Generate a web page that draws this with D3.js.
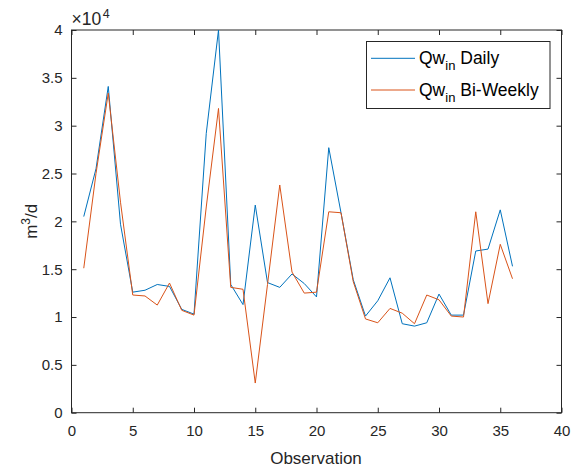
<!DOCTYPE html>
<html>
<head>
<meta charset="utf-8">
<script src="https://cdn.jsdelivr.net/npm/d3@7"></script>
<style>
  html, body { margin: 0; padding: 0; background: #fff; }
  svg { display: block; font-family: "Liberation Sans", Arial, Helvetica, sans-serif; }
</style>
</head>
<body>
<svg id="chart" width="573" height="474"></svg>
<script>
// Observation index 1..36
const observations = d3.range(1, 37);

// Inflow values, units of 1e4 m^3/d
const dailyValues = [
  2.05, 2.55, 3.41, 1.97, 1.26, 1.28, 1.34, 1.32, 1.08, 1.03,
  2.92, 4.00, 1.34, 1.13, 2.17, 1.36, 1.31, 1.45, 1.35, 1.21,
  2.77, 2.09, 1.39, 1.01, 1.17, 1.41, 0.93, 0.905, 0.94, 1.24,
  1.02, 1.02, 1.69, 1.71, 2.12, 1.53
];
const biWeeklyValues = [
  1.51, 2.50, 3.34, 2.20, 1.23, 1.22, 1.125, 1.355, 1.07, 1.02,
  2.15, 3.18, 1.31, 1.29, 0.31, 1.34, 2.38, 1.47, 1.25, 1.26,
  2.10, 2.09, 1.37, 0.98, 0.94, 1.09, 1.04, 0.93, 1.23, 1.18,
  1.01, 1.00, 2.10, 1.14, 1.76, 1.40
];

const xTicks = [0, 5, 10, 15, 20, 25, 30, 35, 40];
const yTicks = [0, 0.5, 1, 1.5, 2, 2.5, 3, 3.5, 4];
const yTickLabels = ["0", "0.5", "1", "1.5", "2", "2.5", "3", "3.5", "4"];

const seriesNames = ["Daily", "Bi-Weekly"];
const seriesColors = ["#0072BD", "#D95319"];

const svg = d3.select("#chart");
const plotLeft = 71.5, plotRight = 561.5, plotTop = 30, plotBottom = 412.7;
const axisColor = "#262626";

const x = d3.scaleLinear().domain([0, 40]).range([plotLeft, plotRight]);
const y = d3.scaleLinear().domain([0, 4]).range([plotBottom, plotTop]);

// Box frame
svg.append("rect")
  .attr("x", plotLeft).attr("y", plotTop)
  .attr("width", plotRight - plotLeft).attr("height", plotBottom - plotTop)
  .attr("fill", "none").attr("stroke", axisColor).attr("stroke-width", 1);

const tickLen = 5;
// Bottom axis with inward ticks
svg.append("g").attr("transform", `translate(0,${plotBottom})`)
  .call(d3.axisBottom(x).tickValues(xTicks).tickSizeInner(-tickLen).tickSizeOuter(0).tickPadding(13));
// Top ticks
svg.append("g").attr("transform", `translate(0,${plotTop})`)
  .call(d3.axisTop(x).tickValues(xTicks).tickSizeInner(-tickLen).tickSizeOuter(0).tickFormat(""));
// Left axis
svg.append("g").attr("transform", `translate(${plotLeft},0)`)
  .call(d3.axisLeft(y).tickValues(yTicks).tickSizeInner(-tickLen).tickSizeOuter(0).tickPadding(9)
    .tickFormat((d, i) => yTickLabels[i]));
// Right ticks
svg.append("g").attr("transform", `translate(${plotRight},0)`)
  .call(d3.axisRight(y).tickValues(yTicks).tickSizeInner(-tickLen).tickSizeOuter(0).tickFormat(""));

svg.selectAll(".domain").remove();
svg.selectAll(".tick line").attr("stroke", axisColor).attr("stroke-width", 1);
svg.selectAll(".tick text").attr("fill", axisColor).style("font-size", "15px");

// Exponent label
const expo = svg.append("text").attr("x", plotLeft).attr("y", 25)
  .attr("fill", axisColor).style("font-size", "17.5px");
expo.append("tspan").text("\u00D710");
expo.append("tspan").attr("dx", 1.5).attr("dy", -7).style("font-size", "12.5px").text("4");

// Axis labels
svg.append("text").attr("x", (plotLeft + plotRight) / 2 - 0.5).attr("y", 464)
  .attr("text-anchor", "middle").attr("fill", axisColor).style("font-size", "17px")
  .text("Observation");

const yl = svg.append("text")
  .attr("transform", `translate(37,${(plotTop + plotBottom) / 2}) rotate(-90)`)
  .attr("text-anchor", "middle").attr("fill", axisColor).style("font-size", "17px");
yl.append("tspan").text("m");
yl.append("tspan").attr("dy", -7).style("font-size", "12px").text("3");
yl.append("tspan").attr("dy", 7).text("/d");

// Series lines
const line = d3.line().x((d, i) => x(observations[i])).y(d => y(d));
[dailyValues, biWeeklyValues].forEach((vals, k) => {
  svg.append("path").datum(vals)
    .attr("d", line)
    .attr("fill", "none")
    .attr("stroke", seriesColors[k])
    .attr("stroke-width", 1)
    .attr("stroke-linejoin", "miter");
});

// Legend
const lg = svg.append("g");
lg.append("rect").attr("x", 366.5).attr("y", 41.5).attr("width", 183.5).attr("height", 67)
  .attr("fill", "#fff").attr("stroke", axisColor).attr("stroke-width", 1);
seriesNames.forEach((name, k) => {
  const yy = 58.3 + k * 31.7;
  lg.append("line").attr("x1", 371).attr("x2", 415).attr("y1", yy).attr("y2", yy)
    .attr("stroke", seriesColors[k]).attr("stroke-width", 1);
  const t = lg.append("text").attr("x", 419).attr("y", yy + 6)
    .attr("fill", "#000").style("font-size", "17.5px");
  t.append("tspan").text("Qw");
  t.append("tspan").attr("dy", 6).style("font-size", "13px").text("in");
  t.append("tspan").attr("dy", -6).text("\u00A0" + name);
});
</script>
</body>
</html>
